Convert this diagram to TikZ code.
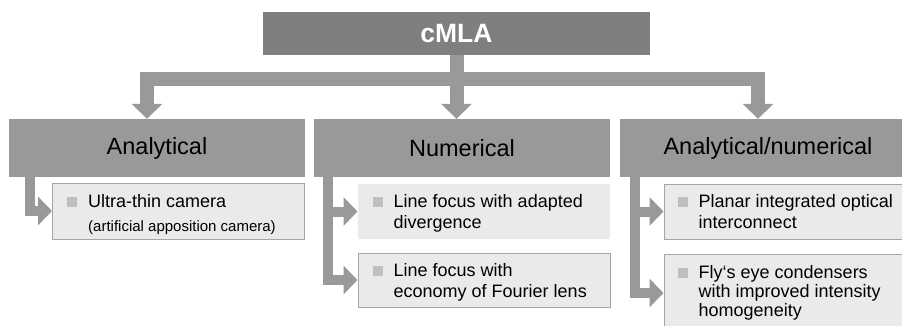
\documentclass[tikz,border=0pt]{standalone}
\usepackage{fontspec}
\setmainfont{Liberation Sans}
\usetikzlibrary{arrows.meta}

\definecolor{rootgray}{HTML}{7F7F7F}
\definecolor{catgray}{HTML}{999999}
\definecolor{leafgray}{HTML}{EAEAEA}
\definecolor{edgegray}{HTML}{A6A6A6}
\definecolor{bulgray}{HTML}{BFBFBF}
\newcommand\itm{\llap{\textcolor{bulgray}{\rule[1pt]{10pt}{10pt}}\hspace{11pt}}}

\begin{document}
\begin{tikzpicture}[x=1pt, y=-1pt,
	rootbox/.style={fill=rootgray, text=white, inner sep=0pt, minimum width=387pt, minimum height=43pt,
		font=\bfseries\fontsize{26.5}{30}\selectfont},
	catbox/.style={fill=catgray, inner sep=0pt, minimum width=296pt, minimum height=58pt,
		font=\fontsize{23.5}{27}\selectfont},
	leafbox/.style={fill=leafgray, draw=edgegray, line width=1pt, inner sep=0pt, minimum width=252pt, minimum height=55pt},
	itemtext/.style={anchor=north west, align=left, inner sep=0pt, font=\fontsize{18}{20.5}\selectfont},
	bigarrow/.style={draw=catgray, line width=14pt, -{Triangle[width=30pt,length=15pt]}},
	smallarrow/.style={draw=catgray, line width=10pt, -{Triangle[width=28pt,length=14pt]}}]
	\clip (0,0) rectangle (902,325);

	\node[rootbox] (cmla) at (456.5, 33.5) {cMLA};

	\node[catbox] (ana)  at (157, 148) {Analytical};
	\node[catbox] (num)  at (462, 148) {Numerical};
	\node[catbox] (anan) at (768, 148) {Analytical/numerical};

	\draw[bigarrow] (cmla.south) -- (cmla.south |- num.north);
	\draw[bigarrow] (cmla.south) -- ++(0,24) -| ([xshift=-10pt]ana.north);
	\draw[bigarrow] (cmla.south) -- ++(0,24) -| ([xshift=-10pt]anan.north);

	% leaves
	\node[leafbox, minimum height=56pt] (ult) at (178.5, 211) {};
	\node[leafbox, draw=none] (lf1) at (484, 211.5) {};
	\node[leafbox, minimum height=54pt] (lf2) at (484, 280) {};
	\node[leafbox] (pio) at (790, 211.5) {};
	\node[leafbox, minimum height=78pt] (fly) at (790, 293) {};

	\node[itemtext] (ultt) at ([xshift=36pt, yshift=-12pt]ult.north west)
		{\itm Ultra-thin camera\\[3.5pt]{\fontsize{15}{18}\selectfont (artificial apposition camera)}};
	\node[itemtext] (lf1t) at ([xshift=36pt, yshift=-11pt]lf1.north west) {\itm Line focus with adapted\\divergence};
	\node[itemtext] (lf2t) at ([xshift=36pt, yshift=-11pt]lf2.north west) {\itm Line focus with\\economy of Fourier lens};
	\node[itemtext] (piot) at ([xshift=35pt, yshift=-11pt]pio.north west) {\itm Planar integrated optical\\interconnect};
	\node[itemtext, font=\fontsize{18}{19}\selectfont] (flyt) at ([xshift=35pt, yshift=-12pt]fly.north west)
		{\itm Fly‘s eye condensers\\with improved intensity\\homogeneity};

	\draw[smallarrow] ([xshift=21pt]ana.south west) |- (ult.west);
	\draw[smallarrow] ([xshift=14.5pt]num.south west) |- (lf1.west);
	\draw[smallarrow] ([xshift=14.5pt]num.south west) |- (lf2.west);
	\draw[smallarrow] ([xshift=15pt]anan.south west) |- (pio.west);
	\draw[smallarrow] ([xshift=15pt]anan.south west) |- (fly.west);
\end{tikzpicture}
\end{document}
